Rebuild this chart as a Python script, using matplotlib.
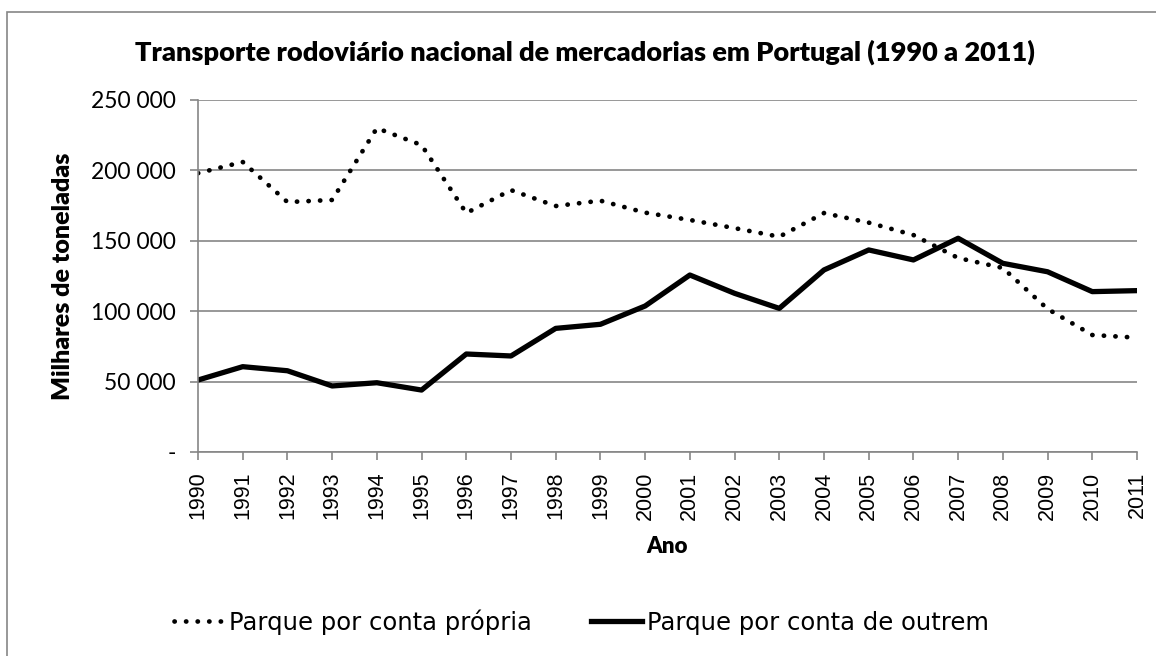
import matplotlib
matplotlib.use('Agg')
import matplotlib.pyplot as plt
from matplotlib.patches import Rectangle

# dados (milhares de toneladas)
anos = list(range(1990, 2012))
propria = [198000, 206000, 177500, 179000, 230000, 218000, 169700, 186000,
           174700, 178500, 170000, 164800, 159000, 152900, 169700, 162900,
           154100, 137800, 130700, 101600, 83100, 81200]
outrem = [51100, 60600, 57700, 46900, 49200, 44000, 69600, 68200,
          87800, 90700, 103700, 125700, 112700, 102000, 129300, 143500,
          136400, 151800, 134000, 128000, 113900, 114600]
yticks = [0, 50000, 100000, 150000, 200000, 250000]
ylabels = ['-', '50 000', '100 000', '150 000', '200 000', '250 000']

titulo = 'Transporte rodoviário nacional de mercadorias em Portugal (1990 a 2011)'
cinza = '#868686'

fig = plt.figure(figsize=(11.56, 6.56), dpi=100)
fig.patches.append(Rectangle((7 / 1156, -0.1), 1.2, 1 - 12 / 656 + 0.1,
                             transform=fig.transFigure, fill=False,
                             edgecolor=cinza, linewidth=1.2))

ax = fig.add_axes([198 / 1156, 1 - 452 / 656, 939 / 1156, 352 / 656])

ax.plot(anos, propria, color='black', linewidth=3.4,
        linestyle=(0, (0.05, 2.4)), dash_capstyle='round',
        label='Parque por conta própria')
ax.plot(anos, outrem, color='black', linewidth=3.8, solid_joinstyle='round',
        label='Parque por conta de outrem')

ax.set_xlim(1990, 2011)
ax.set_ylim(0, 250000)
ax.set_xticks(anos)
ax.set_xticklabels([str(a) for a in anos], rotation=90,
                   fontfamily='Liberation Sans', fontsize=15.5)
ax.set_yticks(yticks)
ax.set_yticklabels(ylabels, fontfamily='Lato', fontsize=16.5)
ax.yaxis.grid(True, color=cinza, linewidth=1.2)
ax.set_axisbelow(True)
for s in ['top', 'right']:
    ax.spines[s].set_visible(False)
for s in ['left', 'bottom']:
    ax.spines[s].set_color(cinza)
    ax.spines[s].set_linewidth(1.2)
ax.tick_params(axis='both', color=cinza, width=1.2, length=6)
ax.tick_params(axis='x', pad=8)
ax.tick_params(axis='y', pad=10)

ax.set_xlabel('Ano', fontfamily='Lato', fontweight='heavy', fontsize=16,
              labelpad=12)
ax.set_ylabel('Milhares de toneladas', fontfamily='Lato', fontweight='heavy',
              fontsize=18, labelpad=12)

fig.text(585 / 1156, 1 - 52 / 656, titulo, ha='center', va='center',
         fontfamily='Lato', fontweight='heavy', fontsize=19.5)

ax.legend(loc='center', bbox_to_anchor=(581 / 1156, 1 - 622 / 656),
          bbox_transform=fig.transFigure, ncol=2, frameon=False,
          prop={'family': 'DejaVu Sans', 'size': 17.5},
          handlelength=2.1, handletextpad=0.2, columnspacing=2.4)

fig.savefig('out.png', dpi=100)
